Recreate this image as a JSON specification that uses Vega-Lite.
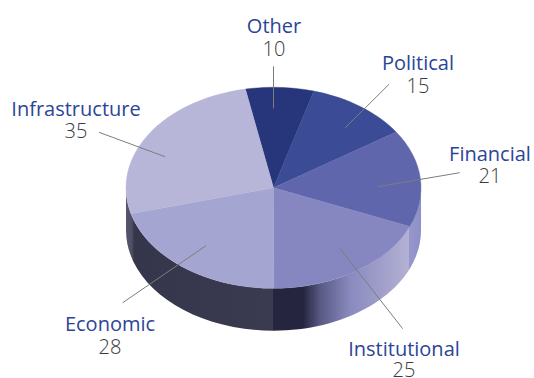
{
  "$schema": "https://vega.github.io/schema/vega-lite/v6.json",
  "width": 534,
  "height": 378,
  "padding": 0,
  "autosize": {"type": "none"},
  "background": "white",
  "config": {"view": {"stroke": null}},
  "datasets": {
    "sectors": [
      {"sector": "Other", "value": 10, "labelX": 0.5, "nameY": -154.8, "valueY": -131.5, "fromX": 0, "fromY": -121.5, "toX": 0, "toY": -79.5},
      {"sector": "Political", "value": 15, "labelX": 144.5, "nameY": -117.8, "valueY": -94.8, "fromX": 115.5, "fromY": -103.5, "toX": 71.8, "toY": -60.1},
      {"sector": "Financial", "value": 21, "labelX": 216.5, "nameY": -26.8, "valueY": -4.8, "fromX": 186.2, "fromY": -15.1, "toX": 104.2, "toY": -1.1},
      {"sector": "Institutional", "value": 25, "labelX": 130.5, "nameY": 168.2, "valueY": 189.4, "fromX": 129.2, "fromY": 140.9, "toX": 65.8, "toY": 59.9},
      {"sector": "Economic", "value": 28, "labelX": -163.5, "nameY": 143.2, "valueY": 166.2, "fromX": -150.8, "fromY": 114.9, "toX": -67.5, "toY": 57.9},
      {"sector": "Infrastructure", "value": 35, "labelX": -197.5, "nameY": -71.8, "valueY": -49.8, "fromX": -174.5, "fromY": -55.5, "toX": -108.5, "toY": -31.1}
    ]
  },
  "encoding": {
    "x": {"scale": {"domain": [-273.5, 260.5]}, "axis": null},
    "y": {"scale": {"domain": [190.2, -187.8]}, "axis": null}
  },
  "layer": [
    {
      "description": "Side wall of the disc, with the shading seams where sectors meet",
      "data": {"values": [{"part": "wall"}]},
      "mark": {
        "type": "point",
        "filled": true,
        "opacity": 1,
        "size": 4,
        "shape": "M-147.5 0A147.5 100.5 0 0 0 147.5 0L147.5 42.4A147.5 100.5 0 0 1 -147.5 42.4Z",
        "fill": {
          "gradient": "linear",
          "x1": 0, "y1": 0, "x2": 1, "y2": 0,
          "stops": [
            {"offset": 0, "color": "#55566b"},
            {"offset": 0.02, "color": "#4e4e64"},
            {"offset": 0.028, "color": "#35354b"},
            {"offset": 0.499, "color": "#3a3a50"},
            {"offset": 0.5, "color": "#25253f"},
            {"offset": 0.6, "color": "#25253f"},
            {"offset": 0.66, "color": "#5a5a85"},
            {"offset": 0.76, "color": "#8a8abf"},
            {"offset": 0.959, "color": "#b3b1d3"},
            {"offset": 0.96, "color": "#9797cd"},
            {"offset": 1, "color": "#8f8fc8"}
          ]
        }
      },
      "encoding": {"x": {"datum": 0}, "y": {"datum": 0}}
    },
    {
      "description": "Top face: one wedge per sector, spanning value/134 of the ellipse",
      "data": {"name": "sectors"},
      "mark": {"type": "point", "filled": true, "opacity": 1, "size": 4, "strokeWidth": 0.4},
      "encoding": {
        "x": {"datum": 0},
        "y": {"datum": 0},
        "shape": {
          "field": "sector",
          "type": "nominal",
          "legend": null,
          "scale": {
            "domain": ["Other", "Political", "Financial", "Institutional", "Economic", "Infrastructure"],
            "range": [
              "M0 0L-28.1 -98.7A147.5 100.5 0 0 1 40.4 -96.7Z",
              "M0 0L40.4 -96.7A147.5 100.5 0 0 1 122.6 -55.9Z",
              "M0 0L122.6 -55.9A147.5 100.5 0 0 1 136.2 38.6Z",
              "M0 0L136.2 38.6A147.5 100.5 0 0 1 0.5 100.5Z",
              "M0 0L0.5 100.5A147.5 100.5 0 0 1 -142.5 26Z",
              "M0 0L-142.5 26A147.5 100.5 0 0 1 -28.1 -98.7Z"
            ]
          }
        },
        "fill": {
          "field": "sector",
          "type": "nominal",
          "legend": null,
          "scale": {
            "domain": ["Other", "Political", "Financial", "Institutional", "Economic", "Infrastructure"],
            "range": ["#27357a", "#3b4b96", "#5f66ab", "#8686c0", "#a5a5d2", "#b7b6d9"]
          }
        },
        "stroke": {
          "field": "sector",
          "type": "nominal",
          "legend": null,
          "scale": {
            "domain": ["Other", "Political", "Financial", "Institutional", "Economic", "Infrastructure"],
            "range": ["#27357a", "#3b4b96", "#5f66ab", "#8686c0", "#a5a5d2", "#b7b6d9"]
          }
        }
      }
    },
    {
      "description": "Leader lines from each label into its sector",
      "data": {"name": "sectors"},
      "mark": {"type": "rule", "color": "#7d7d7d", "strokeWidth": 1},
      "encoding": {
        "x": {"field": "fromX", "type": "quantitative"},
        "y": {"field": "fromY", "type": "quantitative"},
        "x2": {"field": "toX"},
        "y2": {"field": "toY"}
      }
    },
    {
      "description": "Sector names",
      "data": {"name": "sectors"},
      "mark": {"type": "text", "font": "Open Sans", "fontSize": 20, "color": "#2b4596", "align": "center", "baseline": "alphabetic"},
      "encoding": {
        "x": {"field": "labelX", "type": "quantitative"},
        "y": {"field": "nameY", "type": "quantitative"},
        "text": {"field": "sector", "type": "nominal"}
      }
    },
    {
      "description": "Sector counts",
      "data": {"name": "sectors"},
      "mark": {"type": "text", "font": "Open Sans", "fontSize": 20, "fontWeight": 300, "color": "#3a3a3a", "align": "center", "baseline": "alphabetic"},
      "encoding": {
        "x": {"field": "labelX", "type": "quantitative"},
        "y": {"field": "valueY", "type": "quantitative"},
        "text": {"field": "value", "type": "quantitative"}
      }
    }
  ]
}
